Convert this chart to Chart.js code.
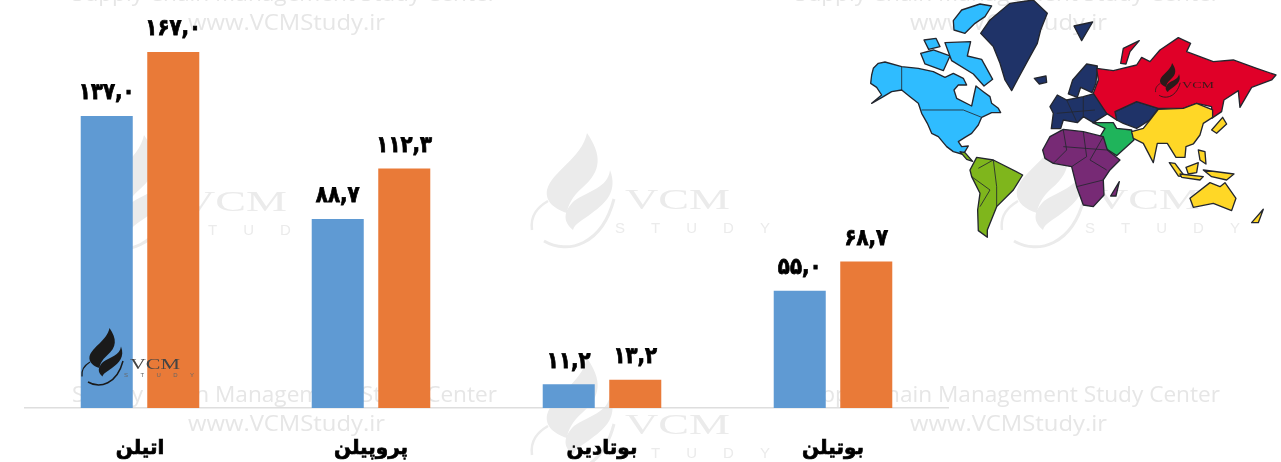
<!DOCTYPE html>
<html lang="fa">
<head>
<meta charset="utf-8">
<title>Chart</title>
<script src="https://cdn.jsdelivr.net/npm/chart.js@4"></script>
<style>
  html, body { margin: 0; padding: 0; background: #fff; overflow: hidden; }
  #wrap { position: relative; width: 1281px; height: 462px; filter: blur(0.7px); }
  #wrap > * { position: absolute; left: 0; top: 0; }
  #chart { z-index: 1; }
  #back { z-index: 0; }
  #front { z-index: 2; }
  .wm { font-family: "Open Sans", "DejaVu Sans", sans-serif; font-size: 22px; fill: #e6e6e6; }
  .vcm { font-family: "Liberation Serif", serif; font-size: 30px; }
  .study { font-family: "Liberation Sans", sans-serif; font-size: 15px; }
</style>
</head>
<body>
<div id="wrap">
  <svg id="back" width="1281" height="462">
    <defs>
      <g id="flame">
        <path d="M57,0 C72,22 72,38 52,55 C42,64 38,72 37,80 C24,76 15,68 17,57 C22,38 52,25 57,0Z"/>
        <path d="M80,37 C88,58 76,70 62,80 C52,88 45,90 43,97 C32,88 34,78 44,68 C58,58 78,55 80,37Z"/>
        <path d="M2,97 C0,82 8,74 18,68" fill="none" stroke-width="2.5" stroke="currentColor"/>
        <path d="M14,108 C38,122 72,112 84,66" fill="none" stroke-width="3" stroke="currentColor"/>
      </g>
      <g id="mark">
        <use href="#flame"/>
        <text class="vcm" x="95" y="76" textLength="105" lengthAdjust="spacingAndGlyphs">VCM</text>
        <text class="study" x="85" y="100" textLength="155">STUDY</text>
      </g>
    </defs>
    <g fill="#ebebeb" color="#ebebeb">
      <use href="#mark" x="87" y="135"/>
      <use href="#mark" x="530" y="133"/>
      <use href="#mark" x="1000" y="133"/>
      <use href="#mark" x="530" y="358"/>
    </g>
    <text class="wm" x="72" y="1" textLength="425" lengthAdjust="spacingAndGlyphs">Supply Chain Management Study Center</text>
    <text class="wm" x="795" y="1" textLength="425" lengthAdjust="spacingAndGlyphs">Supply Chain Management Study Center</text>
    <text class="wm" x="188" y="30" textLength="197" lengthAdjust="spacingAndGlyphs">www.VCMStudy.ir</text>
    <text class="wm" x="910" y="30" textLength="197" lengthAdjust="spacingAndGlyphs">www.VCMStudy.ir</text>
    <text class="wm" x="72" y="402" textLength="425" lengthAdjust="spacingAndGlyphs">Supply Chain Management Study Center</text>
    <text class="wm" x="795" y="402" textLength="425" lengthAdjust="spacingAndGlyphs">Supply Chain Management Study Center</text>
    <text class="wm" x="188" y="431" textLength="197" lengthAdjust="spacingAndGlyphs">www.VCMStudy.ir</text>
    <text class="wm" x="910" y="431" textLength="197" lengthAdjust="spacingAndGlyphs">www.VCMStudy.ir</text>
  </svg>
  <canvas id="chart" width="1281" height="462"></canvas>
  <svg id="front" width="1281" height="462">
    <!-- world map decoration, drawn in 3x crop units -->
    <g transform="translate(850,0) scale(0.3333)" stroke="#23262e" stroke-width="4" stroke-linejoin="round">
      <g fill="#2fbcff">
        <path d="M70,205 85,190 105,186 155,200 205,205 250,215 285,232 310,220 340,235 350,255 325,255 312,270 320,295 365,318 372,285 378,258 400,275 420,290 425,310 445,325 452,338 425,338 395,352 385,375 365,400 345,412 325,425 335,440 355,438 345,455 335,462 310,455 290,440 265,410 245,400 232,370 215,340 205,310 180,290 155,270 125,275 100,290 65,310 95,285 80,262 62,250 65,225Z"/>
        <path d="M310,62 335,30 390,12 425,18 405,50 375,70 345,100 312,90Z"/>
        <path d="M222,120 258,115 270,140 236,148Z"/>
        <path d="M212,160 250,150 300,168 280,212 225,192Z"/>
        <path d="M285,128 362,125 352,168 395,178 428,238 402,258 370,222 305,182Z"/>
      </g>
      <g fill="#1f3368">
        <path d="M392,100 420,60 480,10 550,0 592,40 572,90 562,130 540,170 502,240 485,272 465,240 450,190 430,140Z"/>
        <path d="M553,235 588,228 590,247 568,252Z"/>
        <path d="M672,78 728,66 695,122Z"/>
        <path d="M655,282 668,240 710,192 742,198 738,250 726,278 692,262 682,292Z"/>
        <path d="M600,320 622,285 650,300 700,290 735,280 772,342 730,368 700,350 682,368 640,360 632,386 604,386 610,340Z"/>
        <path d="M795,335 860,305 925,325 900,360 860,385 820,370 800,360Z"/>
      </g>
      <g fill="#e00028">
        <path d="M730,280 745,240 740,205 790,212 860,195 875,172 900,185 930,150 985,113 1022,130 1010,155 1090,185 1150,180 1220,205 1278,225 1265,240 1205,262 1170,322 1165,272 1122,300 1115,335 1085,355 1085,320 1040,310 1000,325 925,325 860,305 795,335 800,360 770,340Z"/>
        <path d="M812,190 820,145 868,122 840,155 828,192Z"/>
      </g>
      <path fill="#1fb45b" d="M728,368 790,368 800,385 845,390 852,420 800,467 770,447 750,410 765,385Z"/>
      <g fill="#ffd726">
        <path d="M845,395 880,385 900,360 925,328 1000,325 1040,310 1088,330 1088,352 1060,370 1050,405 1030,432 1008,440 1005,472 978,472 952,430 922,430 910,488 880,430 850,415Z"/>
        <path d="M1085,390 1118,352 1130,372 1100,400Z"/>
        <path d="M958,488 975,490 1005,530 985,528Z"/>
        <path d="M1008,502 1045,488 1040,518 1015,522Z"/>
        <path d="M990,522 1060,530 1050,540 995,532Z"/>
        <path d="M1045,450 1065,455 1068,492 1050,480Z"/>
        <path d="M1060,510 1152,522 1130,540 1085,530Z"/>
        <path d="M1020,595 1080,548 1110,560 1125,548 1158,595 1145,632 1090,610 1030,622Z"/>
        <path d="M1205,668 1240,628 1225,668Z"/>
      </g>
      <g fill="#772a75">
        <path d="M578,450 600,410 640,388 700,395 760,410 772,450 810,480 780,510 760,540 762,585 730,620 700,615 680,560 665,500 610,490 585,475Z"/>
        <path d="M782,588 808,545 798,588Z"/>
      </g>
      <g fill="#7fb61c">
        <path d="M360,510 380,472 430,480 518,525 490,570 440,620 412,690 412,712 385,692 383,630 390,580 365,530Z"/>
        <path d="M330,455 345,458 368,484 350,478Z"/>
      </g>
      <g fill="none" stroke-width="2.5">
        <path d="M155,200 155,270"/>
        <path d="M215,330 340,330 395,352"/>
        <path d="M640,390 650,450 610,490"/>
        <path d="M700,395 710,470 665,500"/>
        <path d="M760,410 720,480 770,510"/>
        <path d="M680,560 760,540"/>
        <path d="M640,440 770,450"/>
        <path d="M385,505 430,480 440,560 440,620"/>
        <path d="M365,530 420,570 390,620"/>
        <path d="M650,300 680,365"/>
        <path d="M700,290 700,350"/>
        <path d="M620,340 735,330"/>
      </g>
    </g>
    <!-- dark logos that sit on top of the chart -->
    <g fill="#1a1a1a" color="#1a1a1a" transform="translate(81,328) scale(0.5)">
      <use href="#flame"/>
    </g>
    <text x="130" y="369" font-family="Liberation Serif" font-size="15" fill="#444" textLength="50" lengthAdjust="spacingAndGlyphs">VCM</text>
    <text x="124" y="377" font-family="Liberation Sans" font-size="6" fill="#666" textLength="70">STUDY</text>
    <g fill="#2a1a1a" color="#2a1a1a" transform="translate(1155,63) scale(0.3)">
      <use href="#flame"/>
    </g>
    <text x="1182" y="88" font-family="Liberation Serif" font-size="9" fill="#3a1a1a" textLength="32" lengthAdjust="spacingAndGlyphs">VCM</text>
  </svg>
</div>
<script>
// داده‌ها
const categories = ['اتیلن', 'پروپیلن', 'بوتادین', 'بوتیلن'];
const seriesBlue = [137.0, 88.7, 11.2, 55.0];
const seriesOrange = [167.0, 112.3, 13.2, 68.7];

const FA_DIGITS = '۰۱۲۳۴۵۶۷۸۹';

// 137.0 -> ۱۳۷,۰
function toFarsi(v) {
  return v.toFixed(1).replace('.', ',').replace(/\d/g, d => FA_DIGITS[d]);
}

// برچسب مقدار بالای هر ستون
const valueLabels = {
  id: 'valueLabels',
  afterDatasetsDraw(chart) {
    const ctx = chart.ctx;
    ctx.save();
    ctx.font = 'bold 23px "DejaVu Sans"';
    ctx.fillStyle = '#000';
    ctx.strokeStyle = '#000';
    ctx.lineWidth = 0.8;
    ctx.textAlign = 'center';
    ctx.textBaseline = 'bottom';
    chart.data.datasets.forEach((ds, i) => {
      chart.getDatasetMeta(i).data.forEach((bar, j) => {
        const text = toFarsi(ds.data[j]);
        const w = ctx.measureText(text).width * 0.86;
        ctx.fillText(text, bar.x, bar.y - 11, w);
        ctx.strokeText(text, bar.x, bar.y - 11, w);
      });
    });
    ctx.restore();
  }
};

new Chart(document.getElementById('chart'), {
  type: 'bar',
  data: {
    labels: categories,
    datasets: [
      { label: 'A', data: seriesBlue, backgroundColor: '#5f9ad3' },
      { label: 'B', data: seriesOrange, backgroundColor: '#e97a38' }
    ]
  },
  options: {
    responsive: false,
    animation: false,
    categoryPercentage: 0.576,
    barPercentage: 0.782,
    layout: { padding: { left: 24.5, right: 332.5, top: 3, bottom: 0 } },
    plugins: { legend: { display: false }, tooltip: { enabled: false } },
    scales: {
      x: {
        afterFit: scale => { scale.height = 54; },
        border: { color: '#dedede', width: 1.5 },
        grid: { display: false },
        ticks: {
          color: '#000',
          maxRotation: 0,
          padding: 21,
          textStrokeColor: '#000',
          textStrokeWidth: 0.7,
          font: { family: '"DejaVu Sans"', size: 20, weight: 'bold' }
        }
      },
      y: { display: false, min: 0, max: 190 }
    }
  },
  plugins: [valueLabels]
});
</script>
</body>
</html>
